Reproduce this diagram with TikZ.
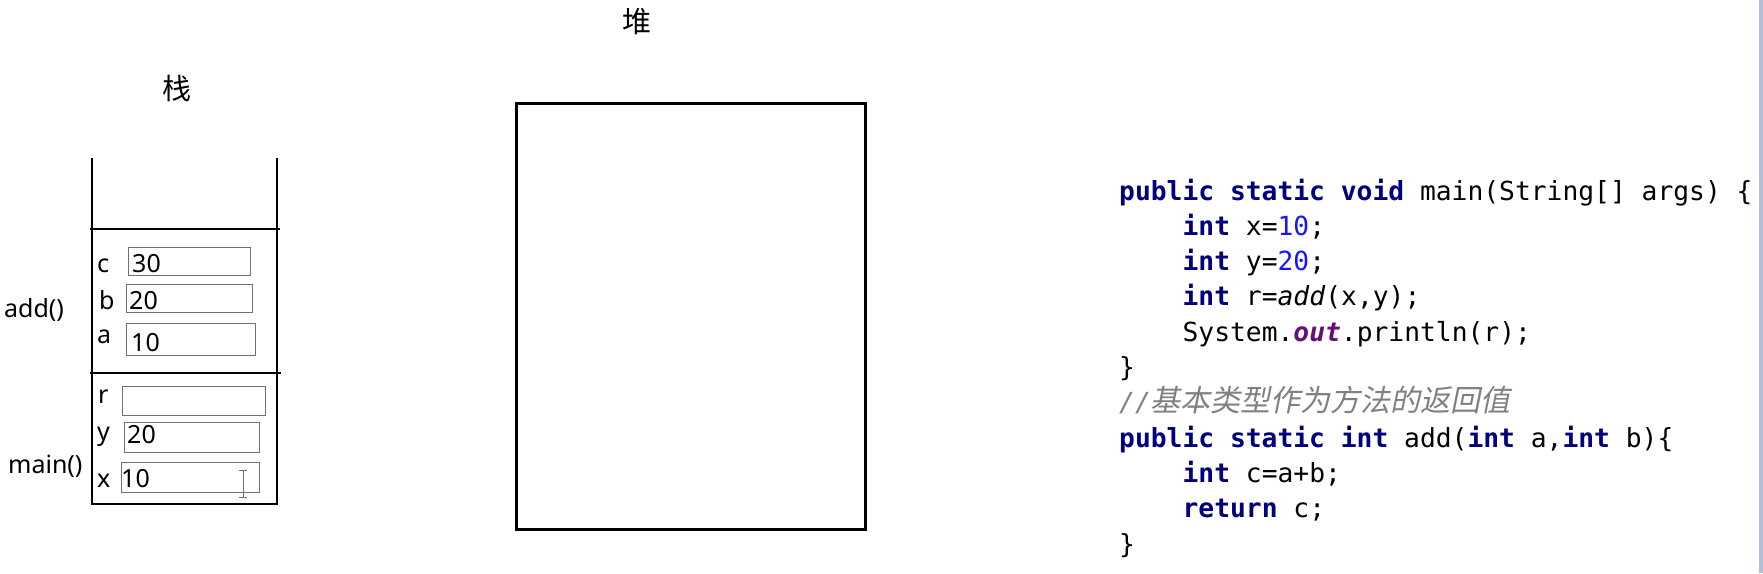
\documentclass[tikz,border=0pt]{standalone}
\usepackage{fontspec}
\setmainfont{Noto Sans}
\setmonofont{DejaVu Sans Mono}
\newfontfamily\cjk{Noto Sans CJK SC}
\newfontfamily\cjkit[FakeSlant=0.2]{Noto Sans CJK SC}
\definecolor{kw}{HTML}{00007F}
\definecolor{num}{HTML}{1515FF}
\definecolor{fld}{HTML}{660E7A}
\definecolor{cmt}{HTML}{808080}
\definecolor{boxgray}{HTML}{707070}
\definecolor{edge}{HTML}{B4BFD6}
\begin{document}
\begin{tikzpicture}[x=1pt,y=-1pt,
  wall/.style={line width=2.6pt,black},
  vbox/.style={draw=boxgray,line width=1.3pt,rectangle,inner sep=0pt,anchor=north west},
  lab/.style={font=\fontsize{25}{29}\selectfont,anchor=base west,inner sep=0pt},
  code/.style={font=\ttfamily\fontsize{26.3}{35}\selectfont,anchor=base west,inner sep=0pt},
  title/.style={font=\cjk\fontsize{29}{32}\selectfont,inner sep=0pt}]
\useasboundingbox (0,0) rectangle (1763,573);
\fill[white] (0,0) rectangle (1763,573);
\fill[edge] (1759,0) rectangle (1763,573);

% titles
\node[title] (tstack) at (177,88) {栈};
\node[title] (theap) at (637,22) {堆};

% stack
\draw[wall] (92,158) -- (92,504) -- (277,504) -- (277,158);
\draw[wall] (90,229) -- (280,229);
\draw[wall] (90,373) -- (281,373);

% variable boxes
\node[vbox,minimum width=122pt,minimum height=28pt] (cbox) at (128,247) {};
\node[vbox,minimum width=126pt,minimum height=28pt] (bbox) at (126,284) {};
\node[vbox,minimum width=129pt,minimum height=32pt] (abox) at (126,323) {};
\node[vbox,minimum width=143pt,minimum height=29pt] (rbox) at (122,386) {};
\node[vbox,minimum width=135pt,minimum height=30pt] (ybox) at (124,422) {};
\node[vbox,minimum width=138pt,minimum height=30pt] (xbox) at (121,462) {};

% labels
\node[lab] (lc) at (97,272) {c};
\node[lab] (lb) at (99,309) {b};
\node[lab] (la) at (97,343) {a};
\node[lab] (lr) at (98,403) {r};
\node[lab] (ly) at (97,440) {y};
\node[lab] (lx) at (97,487) {x};
\node[lab] (ladd) at (4,317) {add()};
\node[lab] (lmain) at (8,473) {main()};

% values
\node[lab] (vc) at (132,272) {30};
\node[lab] (vb) at (129,309) {20};
\node[lab] (va) at (131,351) {10};
\node[lab] (vy) at (127,443) {20};
\node[lab] (vx) at (121,487) {10};

% text cursor
\draw[boxgray,line width=1pt] (243,471) -- (243,497) (239,470) -- (247,470) (239,497) -- (247,497);

% heap
\node[draw,line width=2.6pt,rectangle,inner sep=0pt,minimum width=349pt,minimum height=426pt,anchor=north west] (heap) at (515,102) {};

% code
\node[code] (c1) at (1119,200) {\textbf{\color{kw}public static void} main(String[] args) \{};
\node[code] (c2) at (1182.4,235.3) {\textbf{\color{kw}int} x=\color{num}10\color{black};};
\node[code] (c3) at (1182.4,270.6) {\textbf{\color{kw}int} y=\color{num}20\color{black};};
\node[code] (c4) at (1182.4,305.9) {\textbf{\color{kw}int} r=\textit{add}(x,y);};
\node[code] (c5) at (1182.4,341.2) {System.\textbf{\textit{\color{fld}out}}.println(r);};
\node[code] (c6) at (1119,376.5) {\}};
\node[code,text=cmt] (c7) at (1119,411.8) {\textit{//}{\cjkit\fontsize{30}{35}\selectfont 基本类型作为方法的返回值}};
\node[code] (c8) at (1119,447.1) {\textbf{\color{kw}public static int} add(\textbf{\color{kw}int} a,\textbf{\color{kw}int} b)\{};
\node[code] (c9) at (1182.4,482.4) {\textbf{\color{kw}int} c=a+b;};
\node[code] (c10) at (1182.4,517.7) {\textbf{\color{kw}return} c;};
\node[code] (c11) at (1119,553) {\}};
\end{tikzpicture}
\end{document}
